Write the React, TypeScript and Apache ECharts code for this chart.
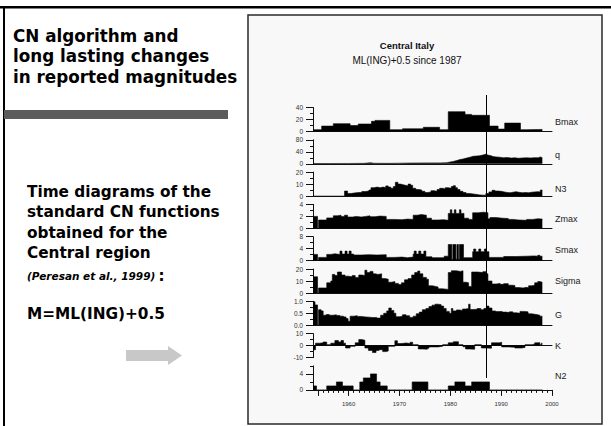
import React, { useEffect, useRef } from 'react';
import * as echarts from 'echarts';

// ---------- data ----------
const panelNames = ['Bmax', 'q', 'N3', 'Zmax', 'Smax', 'Sigma', 'G', 'K', 'N2'];
const yMins = [0, 0, 0, 0, 0, 0, 0, -10, 0];
const yMaxs = [40, 80, 20, 4, 8, 20, 1, 10, 6];
const yIntervals = [20, 40, 10, 2, 4, 10, 0.5, 10, 2];
const xMin = 1953;
const xMax = 2000;
const xTickMajor = [1954, 1960, 1970, 1980, 1990, 2000];
const xTickMinor = [1955, 1956, 1957, 1958, 1959, 1961, 1962, 1963, 1964, 1965, 1966, 1967, 1968, 1969, 1971, 1972, 1973, 1974, 1975, 1976, 1977, 1978, 1979, 1981, 1982, 1983, 1984, 1985, 1986, 1987, 1988, 1989, 1991, 1992, 1993, 1994, 1995, 1996, 1997, 1998, 1999];
const xLabelYears = [1960, 1970, 1980, 1990, 2000];
const n2LabelValues = [0, 4];
const n2MinorTicks = [2, 6];
const markYear = 1987;

const bmax: [number, number][] = [
  [1953, 3], [1954.7, 9], [1957, 13], [1960.3, 10], [1961.9, 12.5], [1964.5, 17], [1965.2, 18.5],
  [1968.1, 3], [1970.6, 4.5], [1974.7, 7], [1977.9, 3], [1979.6, 33], [1982.9, 28.5], [1984.2, 27],
  [1987.7, 9], [1989.4, 4], [1990.7, 14], [1993.8, 3], [1995, 3.5], [1998.1, 3.5],
];

const q: [number, number][] = [
  [1953, 1], [1956, 1], [1960, 1.2], [1963, 1.5], [1964.3, 3.5], [1965, 1.8], [1968, 1.5], [1970, 2],
  [1972, 2.5], [1974, 2.8], [1976, 3], [1978, 3], [1979.3, 3.5], [1980, 6], [1980.6, 8], [1981.3, 11],
  [1981.9, 14], [1982.5, 16], [1983.2, 19], [1983.9, 22], [1984.5, 25], [1985.2, 26], [1985.8, 27],
  [1986.4, 29], [1987, 32], [1987.4, 29], [1988, 27], [1988.4, 24], [1989, 23], [1989.7, 22],
  [1990.5, 20], [1991.2, 21], [1992, 19], [1992.7, 20], [1993.4, 18.5], [1994.2, 19.5], [1995, 20],
  [1995.8, 19.5], [1996.6, 20.5], [1997.3, 20], [1997.7, 23], [1998.1, 20],
];

const n3: [number, number][] = [
  [1953, 0], [1959.2, 4.2], [1959.8, 2.2], [1960.5, 2.5], [1961, 3], [1962, 3], [1962.6, 3.8],
  [1963.3, 4.2], [1964, 5], [1964.4, 7], [1965, 7.5], [1965.6, 7], [1966.2, 7.5], [1966.8, 7],
  [1967.3, 8.5], [1967.8, 7.5], [1968.3, 6.5], [1968.8, 8], [1969.2, 11.5], [1969.7, 10], [1970.2, 9.5],
  [1970.7, 9], [1971.2, 8.5], [1971.7, 10], [1972.2, 9], [1972.6, 6.5], [1973.2, 5.5], [1973.8, 5],
  [1974.4, 4], [1975, 3], [1975.6, 3.5], [1976.2, 4.5], [1976.8, 4], [1977.4, 5.5], [1977.9, 6.5],
  [1978.5, 6], [1979, 7], [1979.6, 6.5], [1980.2, 8], [1980.6, 8.7], [1981, 7], [1981.4, 5.5],
  [1981.9, 4], [1982.5, 3], [1983.1, 2.2], [1983.8, 1.8], [1984.5, 1.4], [1985.2, 1], [1985.8, 0.8],
  [1986.5, 0.8], [1987, 2.2], [1987.6, 3.5], [1988.2, 4.8], [1988.8, 4.2], [1989.4, 4], [1990, 3.5],
  [1990.6, 3], [1991.2, 2.8], [1991.8, 3.2], [1992.3, 3.7], [1992.9, 3.2], [1993.5, 2.8], [1994.2, 3],
  [1994.8, 2.8], [1995.4, 3.2], [1996, 3.5], [1996.6, 3.7], [1997.2, 3.5], [1997.7, 5], [1998.1, 5],
];

const zmax: [number, number][] = [
  [1953, 2], [1953.9, 0], [1954.1, 1.4], [1955.7, 1.75], [1957, 2.1], [1957.8, 2.2], [1958.5, 2.0],
  [1959.2, 2.2], [1959.8, 1.9], [1960.8, 2.0], [1961.5, 1.9], [1962.5, 2.0], [1963.4, 2.1], [1964.2, 1.95],
  [1965.2, 2.05], [1966.2, 2.0], [1967.4, 1.5], [1969, 1.45], [1970.5, 1.55], [1971.6, 1.5], [1972.7, 2.2],
  [1973.5, 2.3], [1974.3, 2.2], [1975.3, 1.7], [1976.3, 1.4], [1977.6, 1.45], [1978.7, 1.35], [1979.6, 2.5],
  [1980, 3.1], [1980.3, 2.5], [1980.8, 3.1], [1981.1, 2.5], [1981.8, 3.1], [1982.1, 2.5], [1982.7, 1.7],
  [1983.6, 1.5], [1984.4, 2.6], [1985.5, 2.7], [1986.5, 2.6], [1987.4, 1.6], [1987.8, 1.8], [1989, 1.7],
  [1990.3, 1.65], [1991.4, 1.5], [1992.3, 1.4], [1993.5, 1.35], [1995, 1.5], [1996.2, 1.6], [1997.2, 1.55],
  [1998.1, 1.55],
];

const smax: [number, number][] = [
  [1953, 2.1], [1953.9, 0], [1954.1, 1.1], [1955.7, 2.1], [1956.5, 2.3], [1957.3, 2.1], [1958.3, 3.2],
  [1958.7, 2.2], [1959.3, 3.2], [1959.7, 2.2], [1960.1, 3.2], [1960.5, 2.2], [1961, 1.9], [1962.5, 2.0],
  [1964, 1.9], [1965.5, 2.0], [1967.4, 1.1], [1969, 1.2], [1970.5, 1.0], [1971.6, 1.2], [1972.7, 2.2],
  [1972.9, 3.2], [1973.3, 2.2], [1973.8, 3.2], [1974.2, 2.2], [1974.8, 3.2], [1975.2, 1.3], [1976.4, 1.0],
  [1978.8, 1.5], [1979.6, 5.4], [1980.3, 0.5], [1980.5, 5.4], [1981.1, 0.5], [1981.3, 5.4], [1981.6, 0.5],
  [1981.8, 5.4], [1982.6, 1.0], [1984.4, 3.0], [1984.6, 3.9], [1985, 3.0], [1985.6, 3.9], [1986, 3.0],
  [1986.7, 3.9], [1987.1, 3.0], [1987.6, 1.1], [1990.5, 1.4], [1993, 1.5], [1995, 1.6], [1996.5, 1.5],
  [1997.2, 1.8], [1997.6, 1.5], [1998.1, 1.5],
];

const sigma: [number, number][] = [
  [1953, 13.5], [1953.9, 0], [1954.1, 4.2], [1955.7, 8.5], [1956.5, 10], [1956.8, 15.5], [1957.3, 14.5],
  [1957.8, 17.5], [1958.6, 15], [1959.3, 14], [1960, 13.5], [1960.7, 14.5], [1961.3, 13], [1962, 15],
  [1962.6, 14.5], [1963.2, 19], [1963.6, 17], [1964.2, 18], [1964.8, 16], [1965.2, 15.5], [1965.8, 16],
  [1966.5, 12], [1967.2, 11.5], [1967.8, 9], [1968.5, 9.5], [1969.1, 8], [1969.8, 7], [1970.4, 8.5],
  [1971, 11], [1971.7, 12], [1972.4, 15], [1973, 17], [1973.6, 18.3], [1974, 16], [1974.6, 13],
  [1975.3, 11.5], [1975.7, 6], [1976.5, 5.5], [1977.1, 5], [1977.6, 3.5], [1978.5, 3.2], [1979.2, 3],
  [1979.6, 17], [1980.2, 18.5], [1981.2, 18], [1982, 18.5], [1982.5, 9], [1983.1, 8.5], [1983.6, 5.5],
  [1984.2, 17.5], [1985.4, 17], [1986.4, 17.8], [1987, 16], [1987.4, 10], [1988.2, 7.5], [1989, 8],
  [1989.8, 7.2], [1990.5, 7.8], [1991.4, 6.5], [1992, 6.3], [1992.7, 4.5], [1993.5, 4.2], [1994.3, 4.7],
  [1995, 4.3], [1995.4, 6], [1996, 6.5], [1996.6, 8.5], [1997.2, 9.5], [1997.6, 9], [1998.1, 9],
];

const g: [number, number][] = [
  [1953, 0.98], [1953.4, 0.85], [1953.9, 0], [1954.1, 0.65], [1954.6, 0.6], [1955, 0.42], [1955.6, 0.45],
  [1956.2, 0.42], [1957, 0.44], [1957.6, 0.41], [1958.3, 0.38], [1959, 0.35], [1959.5, 0.28], [1959.9, 0.17],
  [1960.3, 0.38], [1961, 0.4], [1961.7, 0.37], [1962.5, 0.35], [1963.3, 0.34], [1964, 0.32], [1964.8, 0.33],
  [1965.5, 0.3], [1966.3, 0.42], [1966.9, 0.5], [1967.5, 0.6], [1967.9, 0.72], [1968.4, 0.62], [1968.9, 0.5],
  [1969.3, 0.36], [1970, 0.38], [1970.6, 0.44], [1971.3, 0.4], [1972, 0.33], [1972.7, 0.38], [1973.3, 0.48],
  [1973.9, 0.55], [1974.5, 0.65], [1975.2, 0.7], [1975.8, 0.78], [1976.4, 0.84], [1977, 0.88], [1977.6, 0.86],
  [1978.2, 0.8], [1978.7, 0.7], [1979.2, 0.58], [1979.8, 0.5], [1980.2, 0.7], [1980.5, 0.6], [1981.2, 0.64],
  [1981.8, 0.62], [1982.4, 0.68], [1983, 0.7], [1983.6, 0.88], [1983.9, 0.66], [1984.6, 0.67], [1985.3, 0.7],
  [1986, 0.65], [1986.6, 0.7], [1987.1, 0.8], [1987.6, 0.72], [1988.2, 0.6], [1988.9, 0.57], [1989.6, 0.58],
  [1990.2, 0.55], [1991, 0.53], [1991.6, 0.56], [1992.3, 0.52], [1993, 0.5], [1993.7, 0.58], [1994.5, 0.56],
  [1995.3, 0.48], [1996, 0.46], [1996.6, 0.44], [1997.2, 0.42], [1997.6, 0.38], [1998.1, 0.38],
];

const k: [number, number][] = [
  [1953, -3.5], [1953.5, 2], [1954.3, 2.3], [1955, 3], [1955.7, 0.8], [1956.5, 2], [1957.3, 4.2], [1958, 3],
  [1958.5, 4.2], [1959, 2], [1959.4, -2], [1960.3, -0.6], [1961.3, 2.3], [1962, 5], [1962.6, 4.5],
  [1963.2, -2], [1963.9, -4], [1964.7, -5.8], [1965.4, -4], [1966, -3.4], [1966.7, -5], [1967.4, -4.5],
  [1967.8, -0.6], [1969.1, 4], [1969.6, 1.7], [1970.5, 2.2], [1971.3, 1.7], [1972.1, 2.8], [1972.6, 0.8],
  [1973.7, -2.8], [1974.6, -3], [1975.5, -2.2], [1975.8, -1.1], [1977.6, -0.6], [1978.5, 0.8], [1979.6, 2.3],
  [1980.6, 3.2], [1981.6, 0.8], [1982.5, -1], [1983, -2.8], [1983.7, -3], [1984.8, 0.8], [1986.1, -2],
  [1987.1, -2.2], [1988.1, 2.3], [1989.7, 2.8], [1990.1, -1.1], [1991.5, -1.4], [1992.7, -2], [1994, -1.5],
  [1994.7, 0.8], [1996, 1.2], [1996.6, 2.3], [1997.3, 2.5], [1997.6, 0.8], [1997.9, 2], [1998.1, 2],
];

const n2: [number, number][] = [
  [1953, 1], [1953.7, 0], [1955.7, 1], [1957.6, 2], [1958.8, 1], [1960.9, 0], [1962.2, 2], [1962.9, 3],
  [1964.3, 4], [1965.5, 2], [1966.2, 1], [1967.6, 0], [1972.5, 2], [1975.6, 0], [1979.6, 1], [1980.9, 2],
  [1982.9, 1], [1984.2, 2], [1987.7, 0], [1998.1, 0],
];

const seriesData = [bmax, q, n3, zmax, smax, sigma, g, k, n2];

// ---------- layout ----------
const W = 611;
const H = 426;
const GRID_LEFT = 313;
const GRID_WIDTH = 239;
const PANEL_TOP0 = 107.5;
const PANEL_STEP = 32.3;
const PANEL_H = 24;
const rightLabelY = [122, 155, 189, 219, 250, 281, 315, 346, 376];
const AX = '#111';
const LBL = '#333';

function buildOption() {
  const grids = panelNames.map((_, i) => ({
    left: GRID_LEFT,
    width: GRID_WIDTH,
    top: PANEL_TOP0 + i * PANEL_STEP,
    height: PANEL_H,
  }));
  const last = panelNames.length - 1;
  const xAxes: any[] = panelNames.map((_, i) => ({
    type: 'value',
    gridIndex: i,
    position: 'bottom',
    min: xMin,
    max: xMax,
    axisLine: { show: true, onZero: true, lineStyle: { color: AX, width: 1 } },
    axisTick:
      i === last
        ? { show: true, customValues: xTickMajor, length: 6, lineStyle: { color: AX, width: 1 } }
        : { show: false },
    axisLabel:
      i === last
        ? {
            show: true,
            customValues: xLabelYears,
            fontSize: 6,
            color: LBL,
            margin: 11,
            fontFamily: 'Liberation Sans',
            formatter: (v: number) => String(v),
          }
        : { show: false },
    splitLine: { show: false },
  }));
  xAxes.push({
    type: 'value',
    gridIndex: last,
    position: 'bottom',
    min: xMin,
    max: xMax,
    axisLine: { show: false, onZero: false },
    axisTick: { show: true, customValues: xTickMinor, length: 3, lineStyle: { color: AX, width: 1 } },
    axisLabel: { show: false },
    splitLine: { show: false },
  });
  const yAxes: any[] = panelNames.map((_, i) => ({
    type: 'value',
    gridIndex: i,
    position: 'left',
    min: yMins[i],
    max: yMaxs[i],
    interval: yIntervals[i],
    axisLine: { show: true, onZero: false, lineStyle: { color: AX, width: 1 } },
    axisTick:
      i === last
        ? { show: true, customValues: n2LabelValues, length: 7, lineStyle: { color: AX } }
        : { show: true, length: 7, lineStyle: { color: AX } },
    minorTick:
      i === last
        ? { show: false }
        : { show: true, splitNumber: 2, length: 3, lineStyle: { color: AX } },
    axisLabel: {
      show: true,
      fontSize: 6.5,
      color: LBL,
      margin: 10,
      fontFamily: 'Liberation Sans',
      customValues: i === last ? n2LabelValues : undefined,
      formatter: (v: number) => (i === 6 ? v.toFixed(1) : String(v)),
    },
    splitLine: { show: false },
    minorSplitLine: { show: false },
  }));
  yAxes.push({
    type: 'value',
    gridIndex: last,
    position: 'left',
    min: 0,
    max: 6,
    interval: 2,
    axisLine: { show: false, onZero: false },
    axisTick: { show: true, customValues: n2MinorTicks, length: 3, lineStyle: { color: AX } },
    axisLabel: { show: false },
    splitLine: { show: false },
  });

  const series = seriesData.map((d, i) => ({
    type: 'line',
    name: panelNames[i],
    xAxisIndex: i,
    yAxisIndex: i,
    data: d,
    step: i === 1 ? false : 'end',
    symbol: 'none',
    silent: true,
    lineStyle: { color: '#000', width: 0.6 },
    areaStyle: { color: '#000', opacity: 1 },
    z: 2,
  }));

  return {
    animation: false,
    backgroundColor: '#ffffff',
    grid: grids,
    xAxis: xAxes,
    yAxis: yAxes,
    series,
  };
}

function buildGraphic(markX: number) {
  const leftFont = '"DejaVu Sans", Verdana, sans-serif';
  const chartFont = '"Liberation Sans", Arial, sans-serif';
  const els: any[] = [
    { type: 'rect', z: -10, shape: { x: 248, y: 15, width: 354, height: 409 }, style: { fill: '#f8f8f8', stroke: '#2a2a2a', lineWidth: 1.5 } },
    { type: 'rect', z: 50, shape: { x: 0, y: 6, width: W, height: 2.5 }, style: { fill: '#000' } },
    { type: 'rect', z: 50, shape: { x: 3, y: 6, width: 2, height: H - 6 }, style: { fill: '#000' } },
    { type: 'rect', z: 50, shape: { x: 4, y: 110, width: 224, height: 9 }, style: { fill: '#5c5c5c' } },
    {
      type: 'polygon',
      z: 50,
      shape: { points: [[126, 350], [168, 350], [168, 346], [182, 355.5], [168, 365], [168, 361], [126, 361]] },
      style: { fill: '#c8c8c8' },
    },
  ];
  const titleLines = ['CN algorithm and', 'long lasting changes', 'in reported magnitudes'];
  titleLines.forEach((t, i) => {
    els.push({
      type: 'text', z: 50,
      style: { text: t, x: 13, y: 35.5 + i * 20.5, fill: '#000', font: `bold 16.8px ${leftFont}`, textAlign: 'left', textVerticalAlign: 'middle' },
    });
  });
  const bodyLines = ['Time diagrams of the', 'standard CN functions', 'obtained for the', 'Central region'];
  bodyLines.forEach((t, i) => {
    els.push({
      type: 'text', z: 50,
      style: { text: t, x: 27, y: 191.5 + i * 20.6, fill: '#000', font: `bold 15.3px ${leftFont}`, textAlign: 'left', textVerticalAlign: 'middle' },
    });
  });
  els.push({
    type: 'text', z: 50,
    style: {
      text: '{a|(Peresan et al., 1999)} {b|:}',
      x: 27, y: 276, textAlign: 'left', textVerticalAlign: 'middle',
      rich: {
        a: { font: `italic bold 10.5px ${leftFont}`, fill: '#000' },
        b: { font: `bold 15px ${leftFont}`, fill: '#000' },
      },
    },
  });
  els.push({
    type: 'text', z: 50,
    style: { text: 'M=ML(ING)+0.5', x: 27, y: 314, fill: '#000', font: `bold 15.3px ${leftFont}`, textAlign: 'left', textVerticalAlign: 'middle' },
  });
  els.push({
    type: 'text', z: 50,
    style: { text: 'Central Italy', x: 407, y: 45, fill: '#111', font: `bold 9.5px ${chartFont}`, textAlign: 'center', textVerticalAlign: 'middle' },
  });
  els.push({
    type: 'text', z: 50,
    style: { text: 'ML(ING)+0.5 since 1987', x: 407, y: 60, fill: '#111', font: `10px ${chartFont}`, textAlign: 'center', textVerticalAlign: 'middle' },
  });
  panelNames.forEach((n, i) => {
    els.push({
      type: 'text', z: 50,
      style: { text: n, x: 555, y: rightLabelY[i], fill: '#222', font: `9px ${chartFont}`, textAlign: 'left', textVerticalAlign: 'middle' },
    });
  });
  els.push({
    type: 'line', z: 60,
    shape: { x1: markX, y1: 95, x2: markX, y2: 378 },
    style: { stroke: '#000', lineWidth: 1 },
  });
  return els;
}

export default function App() {
  const ref = useRef<HTMLDivElement>(null);
  useEffect(() => {
    if (!ref.current) return;
    const chart = echarts.init(ref.current, undefined, { renderer: 'svg', width: W, height: H });
    chart.setOption(buildOption() as any);
    const mx = chart.convertToPixel({ xAxisIndex: 0 } as any, markYear) as unknown as number;
    chart.setOption({ graphic: buildGraphic(Math.round(mx) + 0.5) } as any);
    return () => chart.dispose();
  }, []);
  return (
    <div
      ref={ref}
      style={{ position: 'absolute', left: 0, top: 0, width: W, height: H, background: '#fff' }}
    />
  );
}
